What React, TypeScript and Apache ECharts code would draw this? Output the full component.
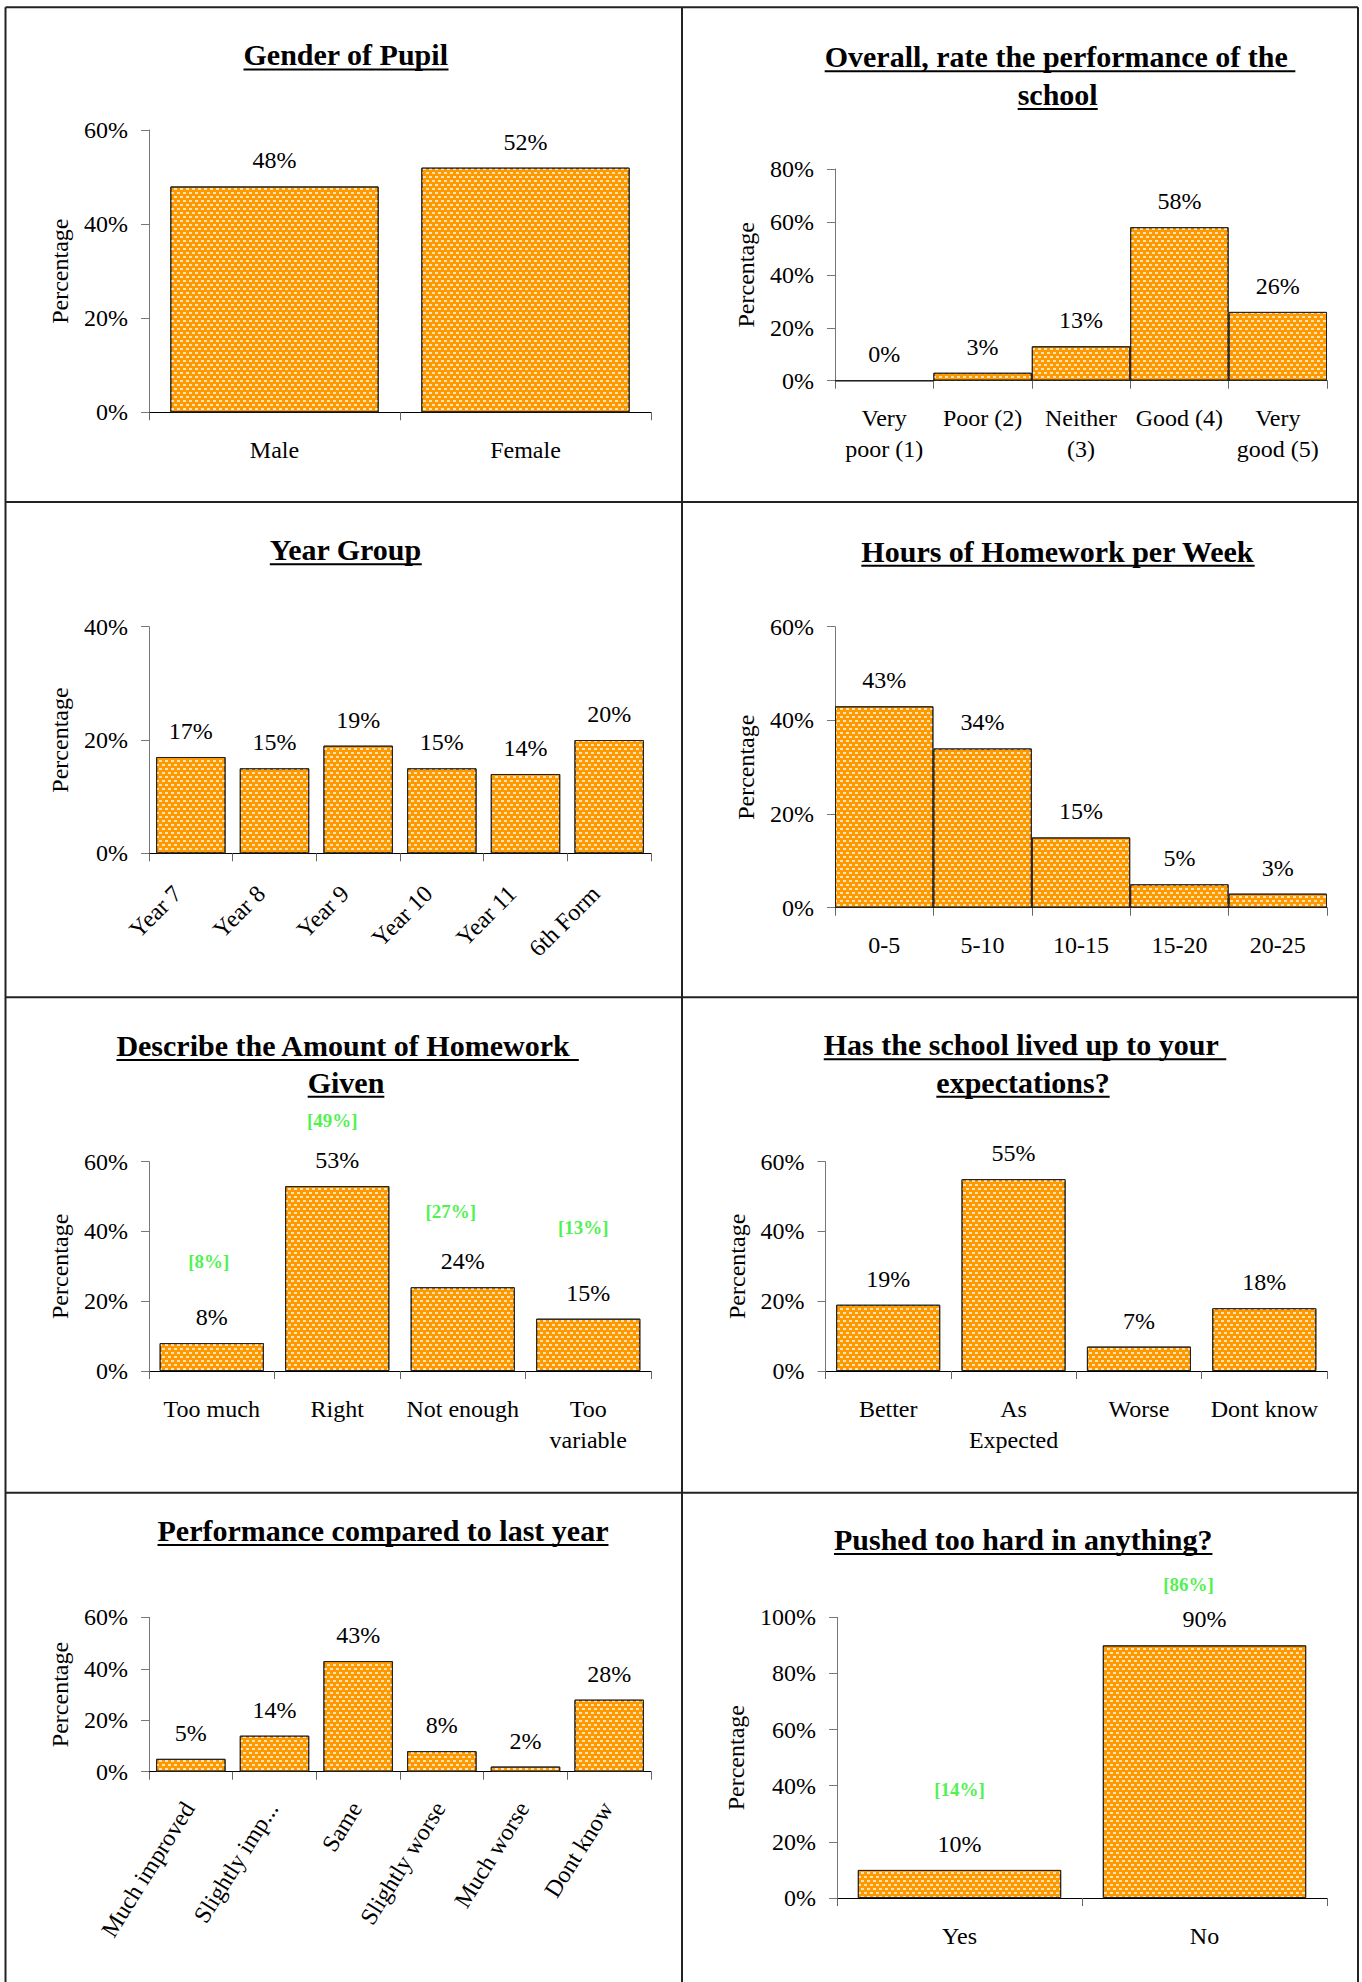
import React, { useEffect, useRef } from "react";
import * as echarts from "echarts";

// ---------- data ----------
const genderCats = ["Male", "Female"];
const genderVals = [48, 52];

const ratingCats = ["Very\npoor (1)", "Poor (2)", "Neither\n(3)", "Good (4)", "Very\ngood (5)"];
const ratingVals = [0, 3, 13, 58, 26];

const yearCats = ["Year 7", "Year 8", "Year 9", "Year 10", "Year 11", "6th Form"];
const yearVals = [17, 15, 19, 15, 14, 20];

const hoursCats = ["0-5", "5-10", "10-15", "15-20", "20-25"];
const hoursVals = [43, 34, 15, 5, 3];

const amountCats = ["Too much", "Right", "Not enough", "Too\nvariable"];
const amountVals = [8, 53, 24, 15];
const amountPrevLabels = ["[8%]", "[49%]", "[27%]", "[13%]"];
const amountPrevLevel = [31.3, 71.7, 45.7, 41.2];

const expectCats = ["Better", "As\nExpected", "Worse", "Dont know"];
const expectVals = [19, 55, 7, 18];

const perfCats = ["Much improved", "Slightly imp...", "Same", "Slightly worse", "Much worse", "Dont know"];
const perfVals = [5, 14, 43, 8, 2, 28];

const pushedCats = ["Yes", "No"];
const pushedVals = [10, 90];
const pushedPrevLabels = ["[14%]", "[86%]"];
const pushedPrevLevel = [38.5, 111.8];

// ---------- layout / style ----------
const FONT = "'Liberation Serif', 'Times New Roman', Times, serif";
const W = 1362;
const H = 1982;

type TitleLine = { text: string; cx: number; base: number };
type Panel = {
  cats: string[];
  vals: number[];
  left: number;
  top: number;
  right: number;
  bottom: number;
  max: number;
  gap: string;
  nameGap: number;
  rotate?: number;
  margin?: number;
  padR?: number;
  titles: TitleLine[];
  green?: { labels: string[]; level: number[]; dx: number[] };
};

const panels: Panel[] = [
  {
    cats: genderCats, vals: genderVals, left: 149, top: 130, right: 651, bottom: 412.3, max: 60, gap: "17%", nameGap: 77,
    titles: [{ text: "Gender of Pupil", cx: 346, base: 65 }],
  },
  {
    cats: ratingCats, vals: ratingVals, left: 835, top: 169, right: 1327, bottom: 380.7, max: 80, gap: "0%", nameGap: 77,
    titles: [
      { text: "Overall, rate the performance of the ", cx: 1060, base: 66.7 },
      { text: "school", cx: 1057.7, base: 104.5 },
    ],
  },
  {
    cats: yearCats, vals: yearVals, left: 149, top: 626.7, right: 651, bottom: 853.3, max: 40, gap: "17%", nameGap: 77,
    rotate: 45, margin: 23, padR: 19,
    titles: [{ text: "Year Group", cx: 345.8, base: 559.8 }],
  },
  {
    cats: hoursCats, vals: hoursVals, left: 835, top: 626.7, right: 1327, bottom: 907.7, max: 60, gap: "0%", nameGap: 77,
    titles: [{ text: "Hours of Homework per Week", cx: 1058, base: 561.2 }],
  },
  {
    cats: amountCats, vals: amountVals, left: 149, top: 1161.7, right: 651, bottom: 1371, max: 60, gap: "17%", nameGap: 77,
    titles: [
      { text: "Describe the Amount of Homework ", cx: 347.6, base: 1055.5 },
      { text: "Given", cx: 346, base: 1092.2 },
    ],
    green: { labels: amountPrevLabels, level: amountPrevLevel, dx: [-3, -5, -12, -5] },
  },
  {
    cats: expectCats, vals: expectVals, left: 825.5, top: 1161.7, right: 1327, bottom: 1371, max: 60, gap: "17%", nameGap: 77,
    titles: [
      { text: "Has the school lived up to your ", cx: 1025, base: 1054.8 },
      { text: "expectations?", cx: 1023, base: 1092.2 },
    ],
  },
  {
    cats: perfCats, vals: perfVals, left: 149, top: 1617.3, right: 651, bottom: 1771.7, max: 60, gap: "17%", nameGap: 77,
    rotate: 58, margin: 29, padR: 4,
    titles: [{ text: "Performance compared to last year", cx: 383, base: 1540.5 }],
  },
  {
    cats: pushedCats, vals: pushedVals, left: 837, top: 1617.3, right: 1327, bottom: 1898, max: 100, gap: "17%", nameGap: 89,
    titles: [{ text: "Pushed too hard in anything?", cx: 1023.2, base: 1549.5 }],
    green: { labels: pushedPrevLabels, level: pushedPrevLevel, dx: [0, -16] },
  },
];

const DECAL: any = {
  symbol: "rect",
  symbolSize: 1,
  color: "rgba(255,255,255,0.72)",
  dashArrayX: [[3, 3], [0, 3, 3, 0]],
  dashArrayY: [1.4, 1.9],
  rotation: 0,
};

function measure(text: string, font: string): number {
  const c = document.createElement("canvas").getContext("2d");
  if (!c) return text.length * 14;
  c.font = font;
  return c.measureText(text).width;
}

function buildOption(): any {
  const grid: any[] = [];
  const xAxis: any[] = [];
  const yAxis: any[] = [];
  const series: any[] = [];
  const graphic: any[] = [];

  panels.forEach((p, i) => {
    grid.push({
      left: p.left,
      top: p.top,
      width: p.right - p.left,
      height: p.bottom - p.top,
      containLabel: false,
      outerBoundsMode: "none",
    });
    xAxis.push({
      type: "category",
      gridIndex: i,
      data: p.cats,
      boundaryGap: true,
      axisLine: { show: true, lineStyle: { color: "#000", width: 1 } },
      axisTick: { show: true, length: 8, alignWithLabel: false, interval: 0, lineStyle: { color: "#666" } },
      axisLabel: {
        interval: 0,
        rotate: p.rotate || 0,
        margin: p.margin != null ? p.margin : 22,
        fontFamily: FONT,
        fontSize: 24,
        color: "#000",
        lineHeight: p.rotate ? 24 : 31,
        padding: p.padR ? [0, p.padR, 0, 0] : 0,
      },
      splitLine: { show: false },
    });
    yAxis.push({
      type: "value",
      gridIndex: i,
      min: 0,
      max: p.max,
      interval: 20,
      name: "Percentage",
      nameLocation: "middle",
      nameGap: p.nameGap,
      nameRotate: 90,
      nameTextStyle: { fontFamily: FONT, fontSize: 24, color: "#000" },
      axisLine: { show: true, lineStyle: { color: "#777", width: 1 } },
      axisTick: { show: true, length: 8, lineStyle: { color: "#777" } },
      axisLabel: { formatter: "{value}%", margin: 21, fontFamily: FONT, fontSize: 24, color: "#000" },
      splitLine: { show: false },
    });
    series.push({
      type: "bar",
      xAxisIndex: i,
      yAxisIndex: i,
      data: p.vals,
      barCategoryGap: p.gap,
      silent: true,
      itemStyle: { color: "#FF9900", borderColor: "#222", borderWidth: 1, decal: DECAL },
      label: {
        show: true,
        position: "top",
        distance: 14,
        formatter: "{c}%",
        fontFamily: FONT,
        fontSize: 24,
        color: "#000",
      },
    });
    if (p.green) {
      const g = p.green;
      series.push({
        type: "scatter",
        xAxisIndex: i,
        yAxisIndex: i,
        clip: false,
        silent: true,
        symbolSize: 1,
        itemStyle: { color: "rgba(0,0,0,0)" },
        data: g.level.map((v, j) => ({ value: [j, v], label: { offset: [g.dx[j], 0] } })),
        label: {
          show: true,
          position: "inside",
          formatter: (prm: any) => g.labels[prm.dataIndex],
          fontFamily: FONT,
          fontSize: 19,
          fontWeight: "bold",
          color: "#22EE22",
        },
      });
    }
    // titles with underline
    p.titles.forEach((t) => {
      const font = `bold 30px ${FONT}`;
      const wFull = measure(t.text, font);
      const x0 = t.cx - wFull / 2;
      graphic.push({
        type: "text",
        x: x0,
        y: t.base - 10.1,
        silent: true,
        style: {
          text: t.text.trim(),
          fontFamily: FONT,
          fontSize: 30,
          fontWeight: "bold",
          fill: "#000",
          align: "left",
          verticalAlign: "middle",
        },
      });
      graphic.push({
        type: "line",
        silent: true,
        shape: { x1: x0, y1: t.base + 4.5, x2: x0 + wFull, y2: t.base + 4.5 },
        style: { stroke: "#000", lineWidth: 2 },
      });
    });
  });

  // panel borders
  const border = { stroke: "#222", lineWidth: 2 };
  const frameLines = [
    [5.5, 7.3, 1358, 7.3],
    [5.5, 7.3, 5.5, H + 10],
    [1358, 7.3, 1358, H + 10],
    [682, 7.3, 682, H + 10],
    [5.5, 502, 1358, 502],
    [5.5, 997.3, 1358, 997.3],
    [5.5, 1492.7, 1358, 1492.7],
  ];
  frameLines.forEach((l) =>
    graphic.push({ type: "line", silent: true, shape: { x1: l[0], y1: l[1], x2: l[2], y2: l[3] }, style: border })
  );

  return {
    animation: false,
    backgroundColor: "#fff",
    textStyle: { fontFamily: FONT },
    grid,
    xAxis,
    yAxis,
    series,
    graphic,
  };
}

export default function App() {
  const ref = useRef<HTMLDivElement>(null);
  useEffect(() => {
    if (!ref.current) return;
    const chart = echarts.init(ref.current, null, { renderer: "svg", width: W, height: H });
    chart.setOption(buildOption());
    return () => chart.dispose();
  }, []);
  return (
    <div
      ref={ref}
      style={{ position: "absolute", left: 0, top: 0, width: W, height: H, overflow: "hidden", background: "#fff" }}
    />
  );
}
